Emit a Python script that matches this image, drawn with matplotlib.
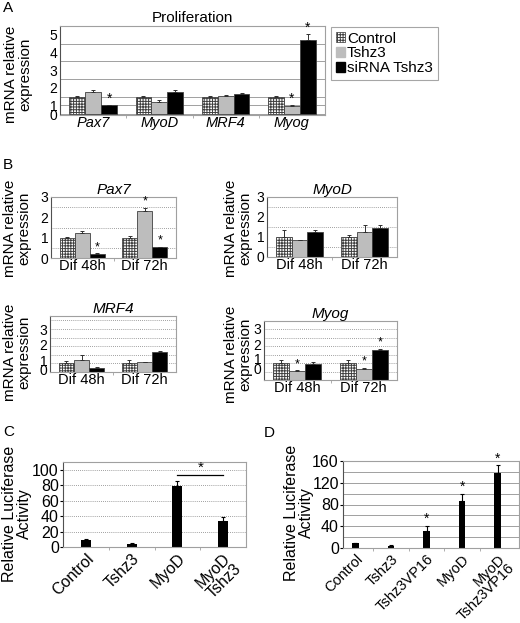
import numpy as np
import matplotlib.pyplot as plt
from matplotlib.patches import Patch

plt.rcParams['font.family'] = ['Liberation Sans', 'DejaVu Sans']
plt.rcParams['hatch.linewidth'] = 0.7

# ---- data ----
genes = ['Pax7', 'MyoD', 'MRF4', 'Myog']
a_ctrl = [1.0, 1.0, 1.0, 1.0]
a_ctrl_err = [0.05, 0.06, 0.04, 0.05]
a_tshz3 = [1.27, 0.71, 1.05, 0.47]
a_tshz3_err = [0.1, 0.11, 0.03, 0.03]
a_si = [0.5, 1.27, 1.15, 4.2]
a_si_err = [0.0, 0.1, 0.08, 0.33]
a_stars = {'tshz3': [3], 'si': [0, 3]}

days = ['Dif 48h', 'Dif 72h']
b_data = {
    'Pax7': dict(ctrl=[1.0, 1.0], ctrl_err=[0.03, 0.1],
                 tshz3=[1.22, 2.33], tshz3_err=[0.1, 0.15],
                 si=[0.2, 0.52], si_err=[0.03, 0.04],
                 stars={'tshz3': [1], 'si': [0, 1]}),
    'MyoD': dict(ctrl=[1.0, 1.0], ctrl_err=[0.35, 0.1],
                 tshz3=[0.85, 1.24], tshz3_err=[0.02, 0.35],
                 si=[1.24, 1.45], si_err=[0.1, 0.15],
                 stars={}),
    'MRF4': dict(ctrl=[1.0, 1.0], ctrl_err=[0.25, 0.45],
                 tshz3=[1.45, 1.13], tshz3_err=[0.5, 0.08],
                 si=[0.5, 2.35], si_err=[0.1, 0.1],
                 stars={}),
    'Myog': dict(ctrl=[1.0, 1.0], ctrl_err=[0.2, 0.2],
                 tshz3=[0.54, 0.64], tshz3_err=[0.03, 0.1],
                 si=[0.97, 1.8], si_err=[0.1, 0.06],
                 stars={'tshz3': [0, 1], 'si': [1]}),
}
b_tick_labels = ['0', '1', '2', '3']

c_labels = ['Control', 'Tshz3', 'MyoD', 'MyoD\nTshz3']
c_vals = [8.5, 4, 79.5, 34]
c_err = [1.5, 1, 6.5, 5]

d_labels = ['Control', 'Tshz3', 'Tshz3VP16', 'MyoD', 'MyoD\nTshz3VP16']
d_vals = [9, 4, 32, 87, 138]
d_err = [1, 1.5, 9, 12, 14]
d_stars = [2, 3, 4]

# ---- figure ----
W, H = 520, 623
fig = plt.figure(figsize=(W / 100, H / 100), dpi=100)


def box(l, t, r, b):
    return fig.add_axes([l / W, 1 - b / H, (r - l) / W, (b - t) / H])


def frame(ax):
    for s in ['top', 'right', 'bottom']:
        ax.spines[s].set_color('#a0a0a0')
        ax.spines[s].set_linewidth(0.8)
    ax.spines['left'].set_color('#505050')
    ax.spines['left'].set_linewidth(0.8)
    ax.set_axisbelow(True)


def grouped(ax, ctrl, ce, tz, te, si, se, stars, w, star_fs):
    x = np.arange(len(ctrl))
    series = [(ctrl, ce, 'white', '++++++', 'ctrl'),
              (tz, te, '#bdbdbd', None, 'tshz3'),
              (si, se, 'black', None, 'si')]
    for k, (v, e, col, hat, key) in enumerate(series):
        xs = x + (k - 1) * w
        ax.bar(xs, v, w, color=col, edgecolor='#404040', hatch=hat, linewidth=0.6, zorder=2)
        ax.errorbar(xs, v, yerr=[np.zeros(len(v)), e], fmt='none', ecolor='#303030',
                    elinewidth=0.7, capsize=1.2, capthick=0.7, zorder=3)
        for i in stars.get(key, []):
            ax.text(xs[i], v[i] + e[i], '*', ha='center', va='bottom', fontsize=star_fs)
    return x


# ---- panel A ----
axA = box(60, 26, 325, 115)
frame(axA)
xa = grouped(axA, a_ctrl, a_ctrl_err, a_tshz3, a_tshz3_err, a_si, a_si_err, a_stars, 0.24, 10)
axA.set_xlim(-0.5, 3.5)
axA.set_ylim(0, 5)
axA.set_yticks(np.arange(0, 5.01, 0.5), minor=True)
axA.yaxis.grid(True, which='minor', color='#a0a0a0', lw=0.7)
axA.set_yticks([-0.04, 0.52, 1.5, 2.5, 3.5, 4.5])
axA.set_yticklabels(['0', '1', '2', '3', '4', '5'], fontsize=10)
axA.tick_params(axis='y', which='minor', length=0)
axA.tick_params(axis='y', which='major', length=0, pad=2)
axA.set_xticks(xa)
axA.set_xticklabels(genes, fontsize=10.5, style='italic')
axA.set_xticks(np.arange(0.5, 3.5, 1), minor=True)
axA.tick_params(axis='x', which='major', length=0, pad=1)
axA.tick_params(axis='x', which='minor', length=2, color='#a0a0a0')
axA.set_title('Proliferation', fontsize=11, pad=3)
fig.text(18 / W, 1 - 74 / H, 'mRNA relative\nexpression', rotation=90, ha='center',
         va='center', fontsize=11, linespacing=1.0)

handles = [Patch(facecolor='white', edgecolor='#404040', hatch='++++++', lw=0.5),
           Patch(facecolor='#bdbdbd', edgecolor='#bdbdbd'),
           Patch(facecolor='black', edgecolor='black')]
leg = fig.legend(handles, ['Control', 'Tshz3', 'siRNA Tshz3'], loc='upper left',
                 bbox_to_anchor=(331 / W, 1 - 27 / H), fontsize=11, frameon=True,
                 fancybox=False, edgecolor='#909090', handlelength=0.6, handleheight=0.6,
                 handletextpad=0.15, borderpad=0.3, labelspacing=0.05, borderaxespad=0)
leg.get_frame().set_linewidth(0.8)

# ---- panel B ----
b_layout = {
    'Pax7': ((51, 197, 176, 258), 3.0, 0.5, [0, 1, 2, 3], (17, 228)),
    'MyoD': ((267, 197, 397, 257), 3.0, 0.5, [0, 1, 2, 3], (238, 228)),
    'MRF4': ((50, 316, 176, 372), 6.5, 1.0, [0.27, 1.37, 3.24, 4.96], (17, 352)),
    'Myog': ((264, 321, 397, 380), 3.5, 0.5, [0.66, 1.26, 2.1, 3.06], (238, 354)),
}
for g, d in b_data.items():
    rect, top, step, tpos, (fx, fy) = b_layout[g]
    ax = box(*rect)
    frame(ax)
    xb = grouped(ax, d['ctrl'], d['ctrl_err'], d['tshz3'], d['tshz3_err'],
                 d['si'], d['si_err'], d['stars'], 0.24, 9)
    ax.set_xlim(-0.5, 1.5)
    ax.set_ylim(0, top)
    ax.set_yticks(np.arange(step, top, step), minor=True)
    ax.yaxis.grid(True, which='minor', color='#808080', lw=0.6, ls=(0, (1, 1.5)))
    ax.set_yticks(tpos)
    ax.set_yticklabels(b_tick_labels, fontsize=10)
    ax.tick_params(axis='y', which='minor', length=0)
    ax.tick_params(axis='y', which='major', length=0, pad=2)
    ax.set_xticks(xb)
    ax.set_xticklabels(days, fontsize=10.5)
    ax.set_xticks([0.5], minor=True)
    ax.tick_params(axis='x', which='major', length=0, pad=1)
    ax.tick_params(axis='x', which='minor', length=2, color='#a0a0a0')
    ax.set_title(g, fontsize=11, style='italic', pad=2)
    fig.text(fx / W, 1 - fy / H, 'mRNA relative\nexpression', rotation=90, ha='center',
             va='center', fontsize=11, linespacing=1.0)

# ---- panel C ----
axC = box(63, 462, 246, 547)
frame(axC)
xc = np.arange(len(c_vals))
axC.bar(xc, c_vals, 0.22, color='black', zorder=2)
axC.errorbar(xc, c_vals, yerr=[np.zeros(len(c_vals)), c_err], fmt='none', ecolor='black',
             elinewidth=0.8, capsize=1.5, capthick=0.8, zorder=3)
axC.set_xlim(-0.5, 3.5)
axC.set_ylim(0, 110)
axC.set_yticks(np.arange(0, 101, 20))
axC.set_yticklabels([str(v) for v in range(0, 101, 20)], fontsize=11.5)
axC.yaxis.grid(True, color='#808080', lw=0.6, ls=(0, (1, 1.5)))
axC.tick_params(axis='y', length=2, pad=1)
axC.set_xticks(xc)
axC.set_xticklabels(c_labels, fontsize=11.5, rotation=45, ha='right', rotation_mode='anchor',
                    linespacing=0.95)
axC.set_xticks(np.arange(0.5, 3, 1), minor=True)
axC.tick_params(axis='x', which='major', length=0, pad=3)
axC.tick_params(axis='x', which='minor', length=2, color='#a0a0a0')
axC.plot([2, 3], [93, 93], color='black', lw=0.9)
axC.text(2.5, 94, '*', ha='center', va='bottom', fontsize=11)
fig.text(17 / W, 1 - 514 / H, 'Relative Luciferase\nActivity', rotation=90, ha='center',
         va='center', fontsize=11.5, linespacing=1.0)

# ---- panel D ----
axD = box(343, 461, 519, 548)
frame(axD)
xd = np.arange(len(d_vals))
axD.bar(xd, d_vals, 0.18, color='black', zorder=2)
axD.errorbar(xd, d_vals, yerr=[np.zeros(len(d_vals)), d_err], fmt='none', ecolor='black',
             elinewidth=0.8, capsize=1.5, capthick=0.8, zorder=3)
for i in d_stars:
    axD.text(xd[i], d_vals[i] + d_err[i], '*', ha='center', va='bottom', fontsize=10)
axD.set_xlim(-0.35, 4.6)
axD.set_ylim(0, 160)
axD.set_yticks(np.arange(0, 161, 40))
axD.set_yticklabels([str(v) for v in range(0, 161, 40)], fontsize=11.5)
axD.set_yticks(np.arange(20, 160, 20), minor=True)
axD.yaxis.grid(True, which='both', color='#a0a0a0', lw=0.7)
axD.tick_params(axis='y', which='major', length=2, pad=1)
axD.tick_params(axis='y', which='minor', length=0)
axD.set_xticks(xd)
axD.set_xticklabels(d_labels, fontsize=10.5, rotation=45, ha='right', rotation_mode='anchor',
                    linespacing=0.9)
axD.set_xticks(np.arange(0.5, 4, 1), minor=True)
axD.tick_params(axis='x', which='major', length=0, pad=3)
axD.tick_params(axis='x', which='minor', length=2, color='#a0a0a0')
fig.text(299 / W, 1 - 513 / H, 'Relative Luciferase\nActivity', rotation=90, ha='center',
         va='center', fontsize=11.5, linespacing=1.0)

for lab, px, py in [('A', 3, 8), ('B', 3, 165), ('C', 3, 432), ('D', 264, 433)]:
    fig.text(px / W, 1 - py / H, lab, fontsize=11, ha='left', va='center')

fig.savefig('out.png', dpi=100)
